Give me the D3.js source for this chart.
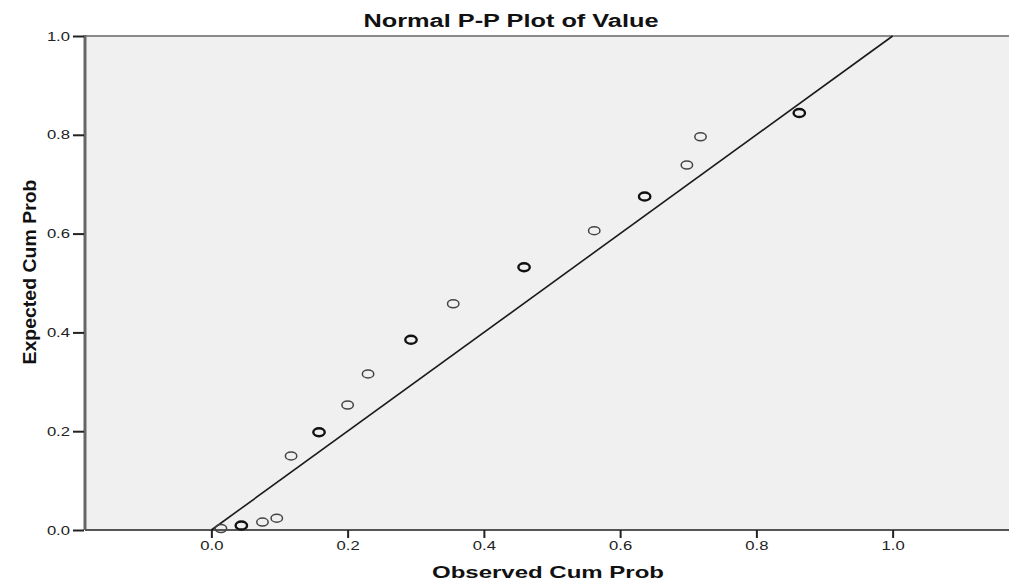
<!DOCTYPE html>
<meta charset="utf-8">
<style>
  body { margin: 0; background: #fff; font-family: "Liberation Sans", Arial, sans-serif; }
  .axis text { font-size: 12.5px; fill: #222; font-family: "Liberation Sans", Arial, sans-serif; }
  .axis .domain { display: none; }
  .axis line { stroke: #222; stroke-width: 2px; }
  .title { font-weight: bold; font-size: 18px; fill: #111; }
  .label { font-weight: bold; font-size: 17px; fill: #111; }
</style>
<body>
<div id="chart"></div>
<script src="https://cdnjs.cloudflare.com/ajax/libs/d3/7.8.5/d3.min.js"></script>
<script>
  // observed / expected cumulative probabilities (dup = tied points drawn twice)
  var observed = [0.014, 0.044, 0.075, 0.096, 0.117, 0.158, 0.200, 0.230, 0.293, 0.355, 0.459, 0.562, 0.636, 0.698, 0.718, 0.863];
  var expected = [0.003, 0.009, 0.016, 0.024, 0.150, 0.198, 0.253, 0.316, 0.385, 0.458, 0.532, 0.606, 0.675, 0.739, 0.796, 0.844];
  var dup      = [1, 2, 1, 1, 1, 2, 1, 1, 2, 1, 2, 1, 2, 1, 1, 2];
  var xTicks = [0.0, 0.2, 0.4, 0.6, 0.8, 1.0];
  var yTicks = [0.0, 0.2, 0.4, 0.6, 0.8, 1.0];
  var refLine = [0, 1];

  var width = 1009, height = 583;
  var margin = { top: 36, right: -10, bottom: 53, left: 85 };

  var svg = d3.select("#chart").append("svg")
    .attr("width", width)
    .attr("height", height);

  var x = d3.scaleLinear()
    .domain([-0.1855, 1.1855])
    .range([margin.left, width - margin.right]);

  var y = d3.scaleLinear()
    .domain([0, 1])
    .range([height - margin.bottom, margin.top]);

  // plot background
  svg.append("rect")
    .attr("x", x.range()[0])
    .attr("y", y(1))
    .attr("width", x.range()[1] - x.range()[0])
    .attr("height", y(0) - y(1))
    .attr("fill", "#f0f0f0");

  // frame lines
  svg.append("line")
    .attr("x1", x.range()[0]).attr("x2", x.range()[1])
    .attr("y1", y(1)).attr("y2", y(1))
    .attr("stroke", "#8a8a8a").attr("stroke-width", 2);
  svg.append("line")
    .attr("x1", x.range()[0]).attr("x2", x.range()[0])
    .attr("y1", y(1) - 1).attr("y2", y(0))
    .attr("stroke", "#666").attr("stroke-width", 3);
  svg.append("line")
    .attr("x1", x.range()[0]).attr("x2", x.range()[1])
    .attr("y1", y(0)).attr("y2", y(0))
    .attr("stroke", "#555").attr("stroke-width", 2);

  // axes
  var xAxis = d3.axisBottom(x)
    .tickValues(xTicks)
    .tickSize(8)
    .tickPadding(3)
    .tickFormat(d3.format(".1f"));

  svg.append("g")
    .attr("class", "x axis")
    .attr("transform", "translate(0," + y(0) + ")")
    .call(xAxis);

  var yAxis = d3.axisLeft(y)
    .tickValues(yTicks)
    .tickSize(11)
    .tickPadding(3)
    .tickFormat(d3.format(".1f"));

  svg.append("g")
    .attr("class", "y axis")
    .attr("transform", "translate(" + (x.range()[0] - 1) + ",0)")
    .call(yAxis);

  // widen tick labels like the stretched original
  svg.selectAll(".axis text").each(function() {
    var w = this.getComputedTextLength();
    d3.select(this).attr("textLength", w * 1.33).attr("lengthAdjust", "spacingAndGlyphs");
  });

  // reference diagonal
  svg.append("line")
    .attr("x1", x(refLine[0])).attr("y1", y(refLine[0]))
    .attr("x2", x(refLine[1])).attr("y2", y(refLine[1]))
    .attr("stroke", "#1a1a1a")
    .attr("stroke-width", 1.6);

  // points
  var pts = observed.map(function(d, i) { return { x: d, y: expected[i], n: dup[i] }; });

  svg.selectAll("ellipse.pt")
    .data(pts)
    .enter()
    .append("ellipse")
    .attr("class", "pt")
    .attr("cx", function(d) { return x(d.x); })
    .attr("cy", function(d) { return y(d.y); })
    .attr("rx", 5.7)
    .attr("ry", 4.0)
    .attr("fill", "none")
    .attr("stroke", function(d) { return d.n > 1 ? "#111" : "#444"; })
    .attr("stroke-width", function(d) { return d.n > 1 ? 2.4 : 1.5; });

  // title + labels
  svg.append("text")
    .attr("class", "title")
    .attr("x", 511)
    .attr("y", 27)
    .attr("text-anchor", "middle")
    .attr("textLength", 295)
    .attr("lengthAdjust", "spacingAndGlyphs")
    .text("Normal P-P Plot of Value");

  svg.append("text")
    .attr("class", "label")
    .attr("x", 548)
    .attr("y", 578)
    .attr("text-anchor", "middle")
    .attr("textLength", 232)
    .attr("lengthAdjust", "spacingAndGlyphs")
    .text("Observed Cum Prob");

  svg.append("text")
    .attr("class", "label")
    .attr("transform", "translate(36," + 272 + ") rotate(-90)")
    .attr("text-anchor", "middle")
    .attr("textLength", 185)
    .attr("lengthAdjust", "spacingAndGlyphs")
    .style("font-size", "19px")
    .text("Expected Cum Prob");
</script>
</body>
